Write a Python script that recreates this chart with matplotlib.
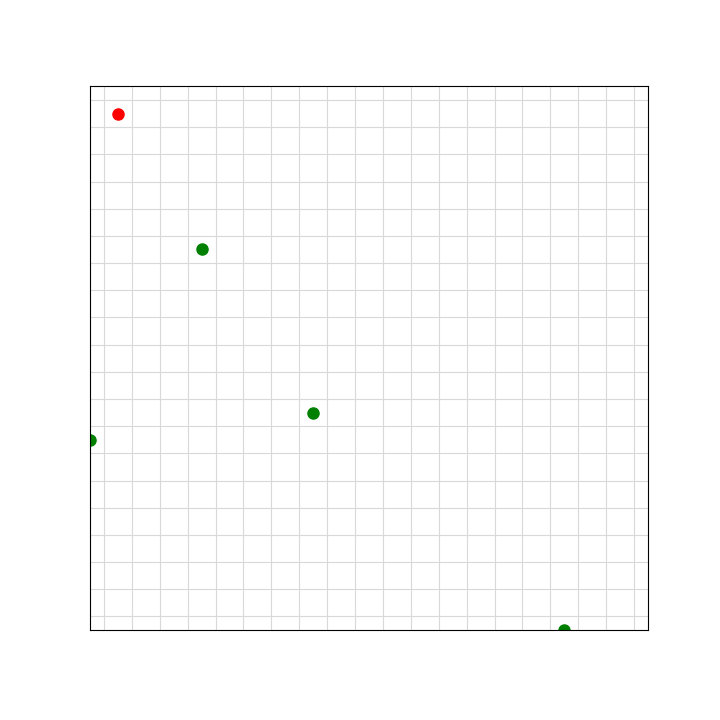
import numpy as np
import matplotlib
matplotlib.use("Agg")
import matplotlib.pyplot as plt

# grid world, 20 x 20 cells
grid_size = 20
start = (1, 1)
goals_x = [4, 8, 0, 17]
goals_y = [6, 12, 13, 20]

fig = plt.figure(figsize=(7.2, 7.2), dpi=100)
ax = fig.add_axes([0.125, 0.125, 0.775, 0.755])

ax.plot(goals_x, goals_y, 'o', color='green', markersize=8, linestyle='none')
ax.plot([start[0]], [start[1]], 'o', color='red', markersize=8)

ax.set_xlim(0, grid_size)
ax.set_ylim(grid_size, 0)
ticks = np.arange(grid_size) + 0.5
ax.set_xticks(ticks)
ax.set_yticks(ticks)
ax.tick_params(length=0, labelbottom=False, labelleft=False)
ax.grid(True, color='#d9d9d9', linewidth=0.8)
ax.set_axisbelow(True)

fig.savefig("out.png", dpi=100)
